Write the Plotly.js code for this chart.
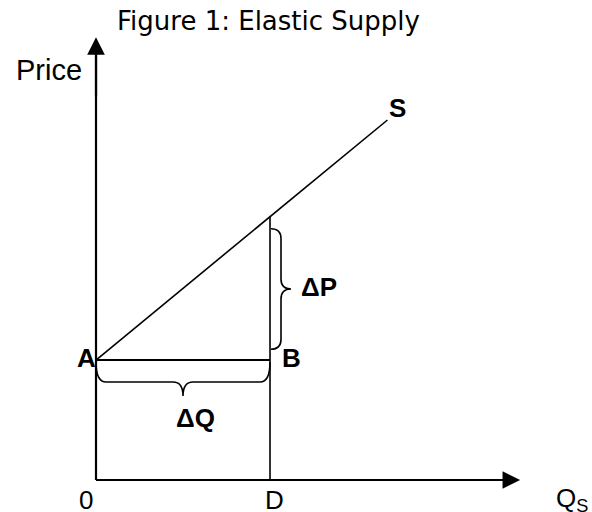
<!DOCTYPE html>
<html>
<head>
<meta charset="utf-8">
<script src="https://cdn.plot.ly/plotly-3.0.1.min.js"></script>
<style>html,body{margin:0;padding:0;background:#fff;}#chart{width:592px;height:512px;}</style>
</head>
<body>
<div id="chart"></div>
<script>
// ---- data (diagram units: quantity, price) ----
const supplyQ = [0, 6.7];          // supply curve S, quantity
const supplyP = [2, 6];            // supply curve S, price
const pointA = [0, 2];             // A (Q, P)
const pointB = [4, 2];             // B (Q, P)
const qD = 4;                      // D on the quantity axis
const axisQmax = 9.75;             // end of quantity axis (arrow)
const axisPmax = 7.38;             // end of price axis (arrow)
const labels = {title: "Figure 1: Elastic Supply", yName: "Price", xName: "Q<sub>S</sub>",
                origin: "0", d: "D", a: "A", b: "B", s: "S", dP: "ΔP", dQ: "ΔQ"};

// price on supply at quantity q
function supplyAt(q){ return supplyP[0] + (supplyP[1]-supplyP[0])*(q-supplyQ[0])/(supplyQ[1]-supplyQ[0]); }
const pD = supplyAt(qD);

// scale helpers (diagram units per pixel)
const xr = [-2.207, 11.402], yr = [-0.533, 8];
const ux = (xr[1]-xr[0])/592, uy = (yr[1]-yr[0])/512;

// brace paths built from data points
function hBrace(x0, x1, y){ // brace below a horizontal segment
  const d1 = 22*uy, d2 = 36*uy, r = 10*ux, xm = (x0+x1)/2;
  const yb = y - d1, yt = y - d2, y0 = y - 2*uy;
  return `M ${x0},${y0} Q ${x0},${yb} ${x0+r},${yb} L ${xm-r},${yb} Q ${xm},${yb} ${xm},${yt} ` +
         `M ${xm},${yt} Q ${xm},${yb} ${xm+r},${yb} L ${x1-r},${yb} Q ${x1},${yb} ${x1},${y0}`;
}
function vBrace(x, y0, y1){ // brace to the right of a vertical segment, y0<y1
  const d1 = 11*ux, d2 = 21*ux, r = 10*uy, ym = (y0+y1)/2;
  const xb = x + d1, xt = x + d2, x0 = x + 1*ux;
  return `M ${x0},${y1} Q ${xb},${y1} ${xb},${y1-r} L ${xb},${ym+r} Q ${xb},${ym} ${xt},${ym} ` +
         `M ${xt},${ym} Q ${xb},${ym} ${xb},${ym-r} L ${xb},${y0+r} Q ${xb},${y0} ${x0},${y0}`;
}

const traces = [
  {x: supplyQ, y: supplyP, mode: "lines", line: {color: "#000", width: 1.6}, hoverinfo: "skip"},
  {x: [pointA[0], pointB[0]], y: [pointA[1], pointB[1]], mode: "lines", line: {color: "#000", width: 2}, hoverinfo: "skip"},
  {x: [qD, qD], y: [0, pD], mode: "lines", line: {color: "#000", width: 1.6}, hoverinfo: "skip"},
  {x: [0, 0], y: [0, axisPmax - 0.2], mode: "lines", line: {color: "#000", width: 2.2}, hoverinfo: "skip"},
  {x: [0, axisQmax - 0.3], y: [0, 0], mode: "lines", line: {color: "#000", width: 2.2}, hoverinfo: "skip"}
];

const big = {family: "Liberation Sans, Arial, sans-serif", size: 26, color: "#000"};
const bold = {family: "Liberation Sans, Arial, sans-serif", size: 26, color: "#000", weight: "bold"};

function txt(x, y, text, font, xanchor, yanchor){
  return {x: x, y: y, xref: "x", yref: "y", text: text, showarrow: false, font: font,
          xanchor: xanchor || "center", yanchor: yanchor || "middle"};
}
function arrow(x, y, ax, ay){
  return {x: x, y: y, ax: ax, ay: ay, xref: "x", yref: "y", axref: "x", ayref: "y", text: "",
          showarrow: true, arrowhead: 2, arrowsize: 1.6, arrowwidth: 2.2, arrowcolor: "#000", standoff: 0};
}

const annotations = [
  arrow(axisQmax, 0, axisQmax - 1, 0),
  arrow(0, axisPmax, 0, axisPmax - 1),
  {x: 268/592, y: 1 - 21/512, xref: "paper", yref: "paper", text: labels.title, showarrow: false,
   font: {family: "DejaVu Sans, sans-serif", size: 26, color: "#000"}, xanchor: "center", yanchor: "middle"},
  txt(-0.27, 6.83, labels.yName, {family: "Liberation Sans, Arial, sans-serif", size: 29, color: "#000"}, "right"),
  txt(pointA[0] - 0.23, pointA[1] + 0.04, labels.a, bold, "center"),
  txt(pointB[0] + 0.5, pointB[1] + 0.04, labels.b, bold, "center"),
  txt(supplyQ[1] + 0.23, supplyP[1] + 0.2, labels.s, bold, "center"),
  txt(qD + 1.13, (pointB[1] + pD)/2 + 0.03, labels.dP, bold, "center"),
  txt((pointA[0] + pointB[0])/2 + 0.28, pointA[1] - 0.97, labels.dQ, bold, "center"),
  txt(-0.23, -0.33, labels.origin, big, "center"),
  txt(qD + 0.1, -0.33, labels.d, big, "center"),
  txt(10.95, -0.33, labels.xName, big, "center")
];

const shapes = [
  {type: "path", xref: "x", yref: "y", path: hBrace(pointA[0], pointB[0], pointA[1]), line: {color: "#000", width: 1.6}},
  {type: "path", xref: "x", yref: "y", path: vBrace(qD, pointB[1] + 0.18, pD - 0.2), line: {color: "#000", width: 1.6}}
];

const layout = {
  width: 592, height: 512,
  margin: {l: 0, r: 0, t: 0, b: 0},
  paper_bgcolor: "#fff", plot_bgcolor: "#fff",
  showlegend: false,
  xaxis: {range: xr, visible: false, fixedrange: true},
  yaxis: {range: yr, visible: false, fixedrange: true},
  annotations: annotations,
  shapes: shapes
};

Plotly.newPlot("chart", traces, layout, {displayModeBar: false, staticPlot: true});
</script>
</body>
</html>
